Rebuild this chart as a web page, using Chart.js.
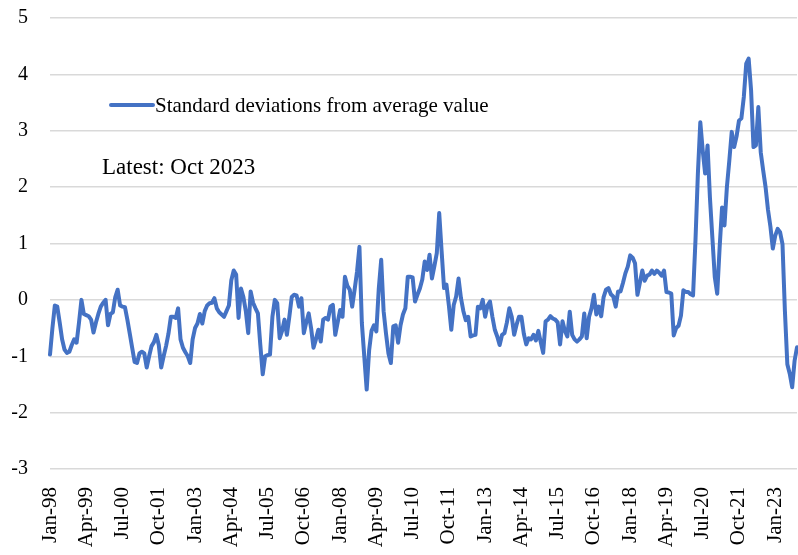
<!DOCTYPE html>
<html>
<head>
<meta charset="utf-8">
<script src="https://cdn.jsdelivr.net/npm/chart.js@4/dist/chart.umd.min.js"></script>
<style>
  html, body { margin: 0; padding: 0; background: #fff; }
</style>
</head>
<body>
<canvas id="chart" width="798" height="555"></canvas>
<script>
// monthly series, Jan-98 .. Oct-23
const monthNames = ["Jan", "Feb", "Mar", "Apr", "May", "Jun", "Jul", "Aug", "Sep", "Oct", "Nov", "Dec"];
const startYear = 1998;
const seriesName = "Standard deviations from average value";
const noteText = "Latest: Oct 2023";

const stdDevs = [
  -0.97, -0.5, -0.1, -0.12, -0.4, -0.7, -0.88, -0.94, -0.92, -0.8, -0.7, -0.76,   // 1998
  -0.4, 0.0, -0.25, -0.27, -0.29, -0.35, -0.58, -0.4, -0.25, -0.12, -0.05, 0.0,    // 1999
  -0.45, -0.25, -0.22, 0.05, 0.18, -0.1, -0.12, -0.13, -0.35, -0.6, -0.85, -1.1,   // 2000
  -1.12, -0.95, -0.92, -0.95, -1.2, -1.0, -0.82, -0.75, -0.62, -0.8, -1.2, -1.0,   // 2001
  -0.82, -0.6, -0.3, -0.3, -0.32, -0.15, -0.7, -0.85, -0.93, -1.0, -1.12, -0.7,    // 2002
  -0.5, -0.42, -0.25, -0.42, -0.2, -0.1, -0.06, -0.05, 0.03, -0.15, -0.22, -0.26,  // 2003
  -0.3, -0.2, -0.1, 0.35, 0.52, 0.45, -0.32, 0.2, 0.05, -0.2, -0.59, 0.15,         // 2004
  -0.05, -0.15, -0.24, -0.8, -1.32, -1.0, -0.98, -0.97, -0.3, 0.0, -0.06, -0.68,   // 2005
  -0.55, -0.35, -0.62, -0.3, 0.05, 0.09, 0.08, -0.12, 0.03, -0.59, -0.4, -0.24,    // 2006
  -0.5, -0.85, -0.7, -0.53, -0.74, -0.35, -0.32, -0.35, -0.12, -0.09, -0.62, -0.4, // 2007
  -0.18, -0.3, 0.41, 0.25, 0.18, -0.12, 0.18, 0.5, 0.94, -0.41, -1.0, -1.59,       // 2008
  -0.9, -0.55, -0.45, -0.56, 0.2, 0.71, -0.2, -0.6, -0.95, -1.12, -0.47, -0.45,    // 2009
  -0.76, -0.45, -0.26, -0.15, 0.41, 0.41, 0.4, -0.03, 0.09, 0.2, 0.36, 0.68,       // 2010
  0.53, 0.8, 0.38, 0.6, 0.83, 1.54, 0.86, 0.21, 0.27, -0.1, -0.53, -0.09,          // 2011
  0.06, 0.38, 0.03, -0.2, -0.36, -0.3, -0.65, -0.63, -0.62, -0.12, -0.15, 0.0,     // 2012
  -0.3, -0.1, -0.03, -0.3, -0.53, -0.65, -0.8, -0.62, -0.59, -0.4, -0.15, -0.3,    // 2013
  -0.62, -0.44, -0.3, -0.3, -0.6, -0.79, -0.68, -0.7, -0.62, -0.72, -0.55, -0.75,  // 2014
  -0.94, -0.38, -0.35, -0.29, -0.33, -0.35, -0.4, -0.79, -0.38, -0.55, -0.65, -0.21, // 2015
  -0.62, -0.7, -0.74, -0.7, -0.65, -0.24, -0.68, -0.3, -0.15, 0.09, -0.26, -0.12,  // 2016
  -0.29, 0.05, 0.18, 0.21, 0.1, 0.06, -0.12, 0.15, 0.15, 0.3, 0.47, 0.59,          // 2017
  0.79, 0.75, 0.65, 0.09, 0.3, 0.52, 0.34, 0.43, 0.45, 0.52, 0.46, 0.52,           // 2018
  0.48, 0.43, 0.52, 0.14, 0.13, 0.11, -0.63, -0.5, -0.46, -0.28, 0.17, 0.14,       // 2019
  0.14, 0.1, 0.08, 1.05, 2.24, 3.15, 2.65, 2.24, 2.74, 1.8, 1.1, 0.4,              // 2020
  0.11, 0.93, 1.64, 1.32, 2.0, 2.47, 2.98, 2.71, 2.9, 3.18, 3.22, 3.6,             // 2021
  4.19, 4.28, 3.72, 2.71, 2.74, 3.42, 2.62, 2.3, 2.0, 1.6, 1.3, 0.91,              // 2022
  1.14, 1.26, 1.2, 0.99, -0.2, -1.14, -1.31, -1.55, -1.08, -0.84                   // 2023
];

const labels = stdDevs.map((v, i) => {
  const yr = String((startYear + Math.floor(i / 12)) % 100).padStart(2, "0");
  return `${monthNames[i % 12]}-${yr}`;
});

const serif = "'Liberation Serif', 'Times New Roman', serif";
const lineColor = "#4472C4";

// legend sample + "latest" note drawn inside the plot
const notes = {
  id: "notes",
  afterDraw(chart) {
    const ctx = chart.ctx;
    ctx.save();
    ctx.strokeStyle = lineColor;
    ctx.lineWidth = 4;
    ctx.lineCap = "round";
    ctx.beginPath();
    ctx.moveTo(111, 105);
    ctx.lineTo(153, 105);
    ctx.stroke();
    ctx.fillStyle = "#000";
    ctx.textBaseline = "middle";
    ctx.font = "21px " + serif;
    ctx.fillText(seriesName, 155, 106);
    ctx.font = "23px " + serif;
    ctx.fillText(noteText, 102, 168);
    ctx.restore();
  },
};

const ctx = document.getElementById("chart").getContext("2d");
window.chart1 = new Chart(ctx, {
  type: "line",
  data: {
    labels: labels,
    datasets: [
      {
        label: seriesName,
        data: stdDevs,
        borderColor: lineColor,
        borderWidth: 4,
        borderJoinStyle: "round",
        borderCapStyle: "round",
        pointRadius: 0,
        tension: 0,
        fill: false,
      },
    ],
  },
  options: {
    responsive: false,
    animation: false,
    layout: { padding: { top: 18, right: 1, left: 0, bottom: 0 } },
    plugins: {
      legend: { display: false },
      tooltip: { enabled: false },
    },
    scales: {
      x: {
        offset: false,
        grid: { display: false },
        border: { display: false },
        ticks: {
          autoSkip: false,
          maxRotation: 90,
          minRotation: 90,
          padding: 10,
          color: "#000",
          font: { family: serif, size: 21 },
          callback: function (value, index) {
            return index % 15 === 0 ? labels[index] : null;
          },
        },
        afterFit: (scale) => {
          scale.height = 86;
          scale.paddingLeft = 0;
          scale.paddingRight = 0;
        },
      },
      y: {
        min: -3,
        max: 5,
        grid: { color: "#d9d9d9", lineWidth: 1.5, drawTicks: false },
        border: { display: false },
        ticks: {
          stepSize: 1,
          padding: 22,
          color: "#000",
          font: { family: serif, size: 20 },
        },
        afterFit: (scale) => {
          scale.width = 50;
          scale.paddingTop = 0;
          scale.paddingBottom = 0;
        },
      },
    },
  },
  plugins: [notes],
});
</script>
</body>
</html>
